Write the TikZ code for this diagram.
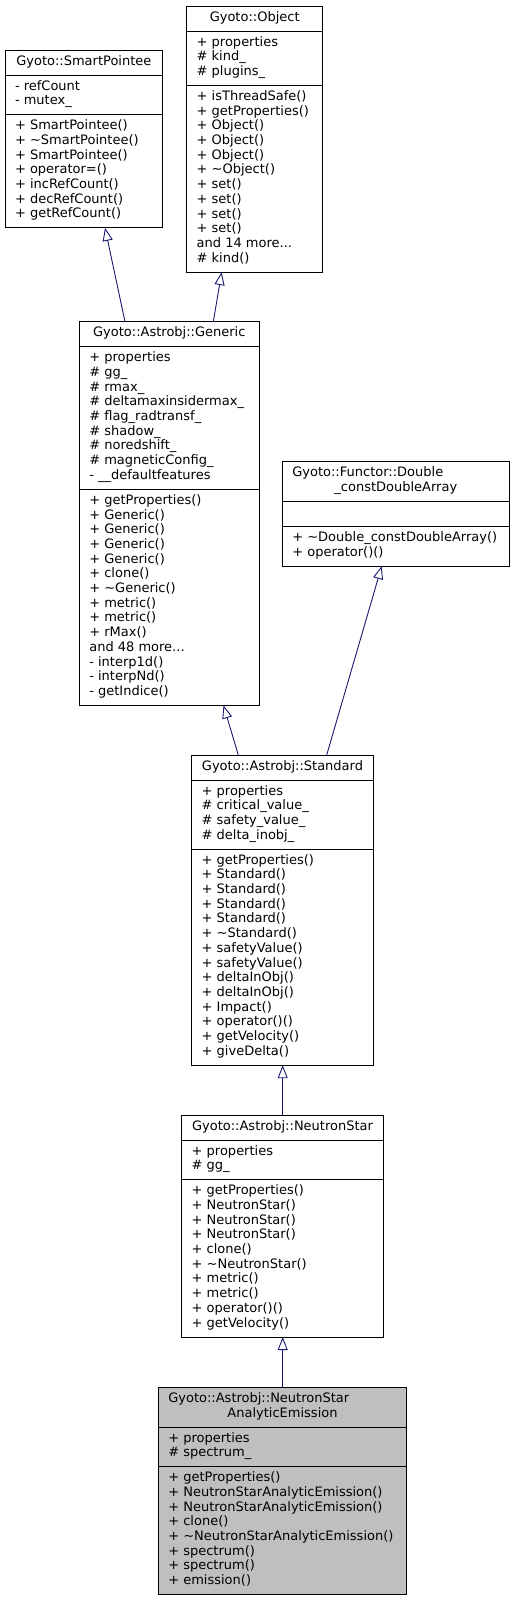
\documentclass[tikz,border=0pt]{standalone}
\usepackage{fontspec}
\setmainfont{DejaVu Sans}
\usetikzlibrary{arrows.meta}
\definecolor{edgeblue}{RGB}{25,25,112}
\definecolor{hilite}{RGB}{191,191,191}
\tikzset{
  classbox/.style={draw=black, line width=1pt, rectangle, inner sep=0pt, outer sep=0pt, anchor=north west},
  sepline/.style={draw=black, line width=1pt},
  txt/.style={inner sep=0pt, outer sep=0pt, anchor=base west, font=\fontsize{13}{14.7}\selectfont},
  ttl/.style={inner sep=0pt, outer sep=0pt, anchor=base, font=\fontsize{13}{14.7}\selectfont},
  ttlleft/.style={inner sep=0pt, outer sep=0pt, anchor=base west, font=\fontsize{13}{14.7}\selectfont},
  inherit/.style={draw=edgeblue, line width=0.9pt, -{Triangle[open, length=13pt, width=10pt]}},
}
% #1 name, #2 xl, #3 xr, #4 ytop, #5 title lines, #6 attr lines, #7 method lines, #8 attrs, #9 methods
\newcommand\umlclass[9]{%
  \pgfmathsetmacro\clsA{#4+#5*14.7+10.3}%
  \pgfmathsetmacro\clsB{\clsA+#6*14.7+10.3}%
  \pgfmathsetmacro\clsC{\clsB+#7*14.7+10.3}%
  \pgfmathsetmacro\clsW{#3-#2}%
  \pgfmathsetmacro\clsH{\clsC-#4}%
  \node[classbox, minimum width=\clsW pt, minimum height=\clsH pt] (#1) at (#2,#4) {};
  \draw[sepline] (#2,\clsA) -- (#3,\clsA) (#2,\clsB) -- (#3,\clsB);
  \node[txt] (#1-a) at ({#2+10},{\clsA+15}) {\begin{tabular}[t]{@{}l@{}}#8\end{tabular}};
  \node[txt] (#1-m) at ({#2+10},{\clsB+15}) {\begin{tabular}[t]{@{}l@{}}#9\end{tabular}};
}
\begin{document}
\begin{tikzpicture}[x=1pt,y=-1pt]
\useasboundingbox (0,0) rectangle (515,1601);

\umlclass{smart}{5}{162.7}{50}{1}{2}{7}{- refCount\\- mutex\_}{+ SmartPointee()\\+ \textasciitilde SmartPointee()\\+ SmartPointee()\\+ operator=()\\+ incRefCount()\\+ decRefCount()\\+ getRefCount()}
\node[ttl] (smart-t) at (83.85,65) {Gyoto::SmartPointee};

\umlclass{object}{186.7}{322.7}{6}{1}{3}{12}{+ properties\\\# kind\_\\\# plugins\_}{+ isThreadSafe()\\+ getProperties()\\+ Object()\\+ Object()\\+ Object()\\+ \textasciitilde Object()\\+ set()\\+ set()\\+ set()\\+ set()\\and 14 more...\\\# kind()}
\node[ttl] (object-t) at (254.7,21) {Gyoto::Object};

\umlclass{generic}{79.3}{259.3}{321.7}{1}{9}{14}{+ properties\\\# gg\_\\\# rmax\_\\\# deltamaxinsidermax\_\\\# flag\_radtransf\_\\\# shadow\_\\\# noredshift\_\\\# magneticConfig\_\\- \_\_defaultfeatures}{+ getProperties()\\+ Generic()\\+ Generic()\\+ Generic()\\+ Generic()\\+ clone()\\+ \textasciitilde Generic()\\+ metric()\\+ metric()\\+ rMax()\\and 48 more...\\- interp1d()\\- interpNd()\\- getIndice()}
\node[ttl] (generic-t) at (169.3,336.7) {Gyoto::Astrobj::Generic};

\umlclass{functor}{282.3}{509.3}{461.7}{2}{1}{2}{}{+ \textasciitilde Double\_constDoubleArray()\\+ operator()()}
\node[ttlleft] (functor-t1) at (292.3,476.7) {Gyoto::Functor::Double};
\node[ttl] (functor-t2) at (395.8,491.4) {\_constDoubleArray};

\umlclass{standard}{191.7}{373.3}{755}{1}{4}{14}{+ properties\\\# critical\_value\_\\\# safety\_value\_\\\# delta\_inobj\_}{+ getProperties()\\+ Standard()\\+ Standard()\\+ Standard()\\+ Standard()\\+ \textasciitilde Standard()\\+ safetyValue()\\+ safetyValue()\\+ deltaInObj()\\+ deltaInObj()\\+ Impact()\\+ operator()()\\+ getVelocity()\\+ giveDelta()}
\node[ttl] (standard-t) at (282.5,770) {Gyoto::Astrobj::Standard};

\umlclass{ns}{181.7}{383.3}{1115}{1}{2}{10}{+ properties\\\# gg\_}{+ getProperties()\\+ NeutronStar()\\+ NeutronStar()\\+ NeutronStar()\\+ clone()\\+ \textasciitilde NeutronStar()\\+ metric()\\+ metric()\\+ operator()()\\+ getVelocity()}
\node[ttl] (ns-t) at (282.5,1130) {Gyoto::Astrobj::NeutronStar};

\begin{scope}[classbox/.append style={fill=hilite}]
\umlclass{nsae}{158.3}{406.7}{1387.3}{2}{2}{8}{+ properties\\\# spectrum\_}{+ getProperties()\\+ NeutronStarAnalyticEmission()\\+ NeutronStarAnalyticEmission()\\+ clone()\\+ \textasciitilde NeutronStarAnalyticEmission()\\+ spectrum()\\+ spectrum()\\+ emission()}
\end{scope}
\node[ttlleft] (nsae-t1) at (168.3,1402.3) {Gyoto::Astrobj::NeutronStar};
\node[ttl] (nsae-t2) at (282.5,1417) {AnalyticEmission};

% inheritance edges
\draw[inherit] ([xshift=45.7pt]generic.north west) -- ([xshift=100pt]smart.south west);
\draw[inherit] ([xshift=134pt]generic.north west) -- ([xshift=35pt]object.south west);
\draw[inherit] ([xshift=46.6pt]standard.north west) -- ([xshift=144.2pt]generic.south west);
\draw[inherit] ([xshift=135pt]standard.north west) -- ([xshift=99.4pt]functor.south west);
\draw[inherit] ([xshift=101pt]ns.north west) -- ([xshift=91pt]standard.south west);
\draw[inherit] ([xshift=124.4pt]nsae.north west) -- ([xshift=101pt]ns.south west);
\end{tikzpicture}
\end{document}
